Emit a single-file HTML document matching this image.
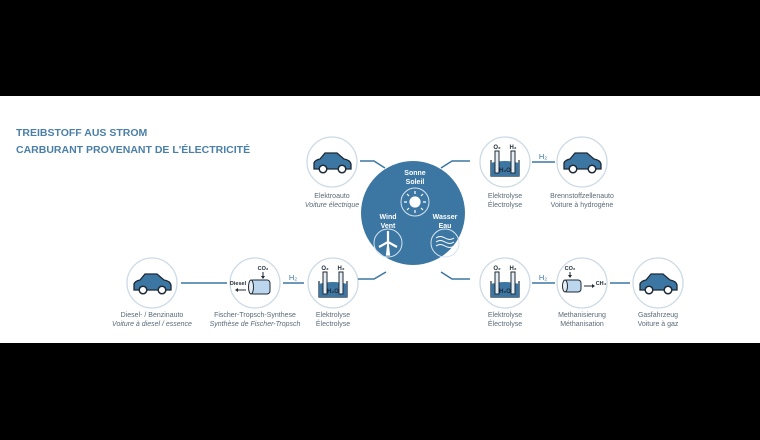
<!DOCTYPE html>
<html><head><meta charset="utf-8"><style>
html,body{margin:0;padding:0;background:#000;}
svg{display:block;}
text{font-family:"Liberation Sans",sans-serif;}
</style></head><body>
<svg width="760" height="440" viewBox="0 0 760 440" xmlns="http://www.w3.org/2000/svg">
<defs>
<g id="car">
  <path d="M-18,6 L-18,0 Q-17,-3 -12,-4 L-7,-10 L5,-10 L12,-4 Q18,-3 19,1 L19,6 Z" fill="#3c76a3" stroke="#1e2a36" stroke-width="1.3"/>
  <circle cx="-9" cy="6" r="3.8" fill="#fff" stroke="#1e2a36" stroke-width="1.5"/>
  <circle cx="10" cy="6" r="3.8" fill="#fff" stroke="#1e2a36" stroke-width="1.5"/>
</g>
<g id="elyse">
  <path d="M-14,-4 L-14,12 L14,12 L14,-4" fill="none" stroke="#1e2a36" stroke-width="1.2"/>
  <path d="M-14,-1 Q0,-5 14,-1 L14,12 L-14,12 Z" fill="#3c76a3"/>
  <rect x="-10" y="-13" width="4" height="22" fill="#e6eef4" stroke="#1e2a36" stroke-width="1"/>
  <rect x="6" y="-13" width="4" height="22" fill="#e6eef4" stroke="#1e2a36" stroke-width="1"/>
  <text x="-8" y="-15" font-size="6" font-weight="bold" text-anchor="middle" fill="#1e2a36">O₂</text>
  <text x="8" y="-15" font-size="6" font-weight="bold" text-anchor="middle" fill="#1e2a36">H₂</text>
  <text x="0" y="8" font-size="6" font-weight="bold" text-anchor="middle" fill="#1e2a36">H₂O</text>
</g>
</defs>
<rect x="0" y="0" width="760" height="440" fill="#000"/>
<rect x="0" y="96" width="760" height="247" fill="#fff"/>
<text x="16" y="136" font-size="10.5" font-weight="bold" fill="#4a7fa8">TREIBSTOFF AUS STROM</text>
<text x="16" y="153" font-size="10.5" font-weight="bold" fill="#4a7fa8">CARBURANT PROVENANT DE L'ÉLECTRICITÉ</text>

<g fill="#fff" stroke="#ccdae5" stroke-width="1.3">
<circle cx="332" cy="162" r="25"/><circle cx="505" cy="162" r="25"/><circle cx="582" cy="162" r="25"/>
<circle cx="152" cy="283" r="25"/><circle cx="255" cy="283" r="25"/><circle cx="333" cy="283" r="25"/>
<circle cx="505" cy="283" r="25"/><circle cx="582" cy="283" r="25"/><circle cx="658" cy="283" r="25"/>
</g>

<g stroke="#3c76a3" stroke-width="1.5" fill="none">
<polyline points="360,161 374,161 385,168"/>
<polyline points="470,161 452,161 441,168"/>
<polyline points="358,279 374,279 386,272"/>
<polyline points="470,279 452,279 441,272"/>
<line x1="532" y1="162" x2="555" y2="162"/>
<line x1="181" y1="283" x2="227" y2="283"/>
<line x1="283" y1="283" x2="304" y2="283"/>
<line x1="532" y1="283" x2="555" y2="283"/>
<line x1="610" y1="283" x2="630" y2="283"/>
</g>
<g font-size="7.5" fill="#3c76a3" text-anchor="middle">
<text x="543" y="159">H₂</text><text x="293" y="280">H₂</text><text x="543" y="280">H₂</text>
</g>

<circle cx="413" cy="213" r="52" fill="#3c76a3"/>
<g fill="none" stroke="#d6e4ee" stroke-width="1">
<circle cx="415" cy="202" r="14"/><circle cx="388" cy="243" r="14"/><circle cx="445" cy="243" r="14"/>
</g>
<g fill="#fff" stroke="#fff" stroke-width="1.2">
<circle cx="415" cy="202" r="5"/>
<path d="M415,194v-3M415,210v3M407,202h-3M423,202h3M409,196l-2,-2M421,208l2,2M421,196l2,-2M409,208l-2,2"/>
<path d="M388,242 L386.5,255 L389.5,255 Z"/>
<path d="M388,242 L388,231 M388,242 L379,247 M388,242 L397,247" stroke-width="2.2"/>
</g>
<g fill="none" stroke="#fff" stroke-width="1">
<path d="M436,238 q4,-3 9,0 t9,0"/><path d="M436,242 q4,-3 9,0 t9,0"/><path d="M436,246 q4,-3 9,0 t9,0"/>
</g>
<g font-size="7" font-weight="bold" fill="#fff" text-anchor="middle">
<text x="415" y="175">Sonne</text><text x="415" y="184">Soleil</text>
<text x="388" y="219">Wind</text><text x="388" y="228">Vent</text>
<text x="445" y="219">Wasser</text><text x="445" y="228">Eau</text>
</g>

<use href="#car" x="332" y="163"/>
<use href="#car" x="582" y="163"/>
<use href="#car" x="152" y="284"/>
<use href="#car" x="658" y="284"/>
<use href="#elyse" x="505" y="164"/>
<use href="#elyse" x="333" y="285"/>
<use href="#elyse" x="505" y="285"/>

<rect x="250" y="280" width="20" height="14" rx="3" fill="#bcd6ee" stroke="#1e2a36" stroke-width="1"/>
<ellipse cx="251" cy="287" rx="2.5" ry="7" fill="#e6eef4" stroke="#1e2a36" stroke-width="1"/>
<text x="263" y="270" font-size="5.5" font-weight="bold" fill="#1e2a36" text-anchor="middle">CO₂</text>
<path d="M263,272v6" stroke="#1e2a36" stroke-width="1"/><path d="M261,276l2,3l2,-3z" fill="#1e2a36"/>
<text x="238" y="285" font-size="5.5" font-weight="bold" fill="#1e2a36" text-anchor="middle">Diesel</text>
<path d="M246,290h-10" stroke="#1e2a36" stroke-width="1"/><path d="M235,290l3,-2v4z" fill="#1e2a36"/>
<rect x="564" y="280" width="17" height="12" rx="3" fill="#bcd6ee" stroke="#1e2a36" stroke-width="1"/>
<ellipse cx="565" cy="286" rx="2.5" ry="6" fill="#e6eef4" stroke="#1e2a36" stroke-width="1"/>
<text x="570" y="270" font-size="5.5" font-weight="bold" fill="#1e2a36" text-anchor="middle">CO₂</text>
<path d="M570,272v5" stroke="#1e2a36" stroke-width="1"/><path d="M568,275l2,3l2,-3z" fill="#1e2a36"/>
<path d="M584,286h10" stroke="#1e2a36" stroke-width="1"/><path d="M595,286l-3,-2v4z" fill="#1e2a36"/>
<text x="601" y="285" font-size="5.5" font-weight="bold" fill="#1e2a36" text-anchor="middle">CH₄</text>

<g font-size="7" fill="#5a6a78" text-anchor="middle">
<text x="332" y="198">Elektroauto</text><text x="332" y="207" font-style="italic">Voiture électrique</text>
<text x="505" y="198">Elektrolyse</text><text x="505" y="207">Électrolyse</text>
<text x="582" y="198">Brennstoffzellenauto</text><text x="582" y="207">Voiture à hydrogène</text>
<text x="152" y="317">Diesel- / Benzinauto</text><text x="152" y="326" font-style="italic">Voiture à diesel / essence</text>
<text x="255" y="317">Fischer-Tropsch-Synthese</text><text x="255" y="326" font-style="italic">Synthèse de Fischer-Tropsch</text>
<text x="333" y="317">Elektrolyse</text><text x="333" y="326">Électrolyse</text>
<text x="505" y="317">Elektrolyse</text><text x="505" y="326">Électrolyse</text>
<text x="582" y="317">Methanisierung</text><text x="582" y="326">Méthanisation</text>
<text x="658" y="317">Gasfahrzeug</text><text x="658" y="326">Voiture à gaz</text>
</g>
</svg>
</body></html>
